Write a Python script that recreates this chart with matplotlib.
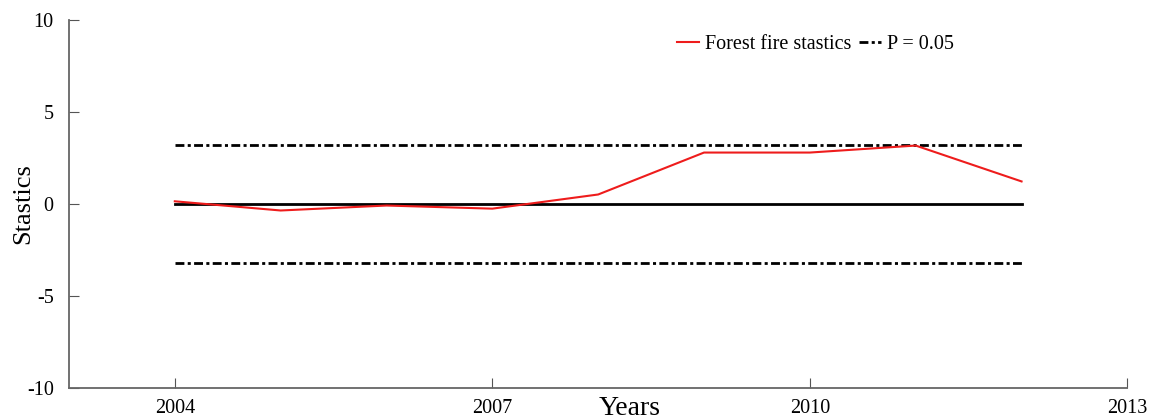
import matplotlib
matplotlib.use("Agg")
import matplotlib.pyplot as plt

# 森林火灾统计量序列
years = [2004, 2005, 2006, 2007, 2008, 2009, 2010, 2011, 2012]
stat = [0.15, -0.35, -0.08, -0.25, 0.52, 2.8, 2.8, 3.18, 1.23]
crit = 3.2  # P = 0.05 临界值

xticks = [2004, 2007, 2010, 2013]
yticks = [-10, -5, 0, 5, 10]

plt.rcParams["font.family"] = ["Liberation Serif", "DejaVu Serif"]
plt.rcParams["axes.unicode_minus"] = False

fig = plt.figure(figsize=(11.53, 4.19), dpi=100)
ax = fig.add_axes([0.0598, 0.074, 0.918, 0.878])

dash = (0, (3.2, 1.2, 1.1, 1.2))
ax.plot(years, stat, color="#ee1c1c", lw=1.5, label="Forest fire stastics", zorder=3)
ax.plot([years[0], years[-1]], [crit, crit], color="black", lw=2, linestyle=dash, label="P = 0.05")
ax.plot([years[0], years[-1]], [-crit, -crit], color="black", lw=2, linestyle=dash)
ax.plot([years[0], years[-1]], [0, 0], color="black", lw=2)

ax.set_xlim(2003, 2013)
ax.set_ylim(-10, 10)
ax.set_xticks(xticks)
ax.set_yticks(yticks)
ax.tick_params(direction="in", length=7, color="#555555", labelsize=14.5)
ax.tick_params(axis="x", pad=8)
ax.tick_params(axis="y", pad=11)

for s in ["top", "right"]:
    ax.spines[s].set_visible(False)
for s in ["left", "bottom"]:
    ax.spines[s].set_color("#666666")
    ax.spines[s].set_linewidth(1.3)

ax.set_ylabel("Stastics", fontsize=19)
ax.yaxis.set_label_coords(-0.033, 0.5)
ax.set_xlabel("Years", fontsize=20, va="center")
ax.xaxis.set_label_coords(0.53, -0.055)

ax.legend(loc="upper left", bbox_to_anchor=(0.557, 1.008), ncol=2, frameon=False,
          fontsize=14.5, handlelength=1.1, handletextpad=0.3, columnspacing=0.4)

fig.savefig("out.png", dpi=100)
